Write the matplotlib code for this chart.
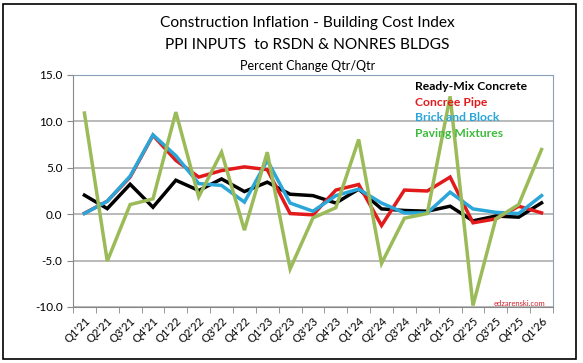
import numpy as np
import matplotlib
matplotlib.use("Agg")
import matplotlib.pyplot as plt
from matplotlib.patches import Rectangle

plt.rcParams['font.family'] = ['Lato', 'DejaVu Sans']

# quarters Q1'21 .. Q1'26
quarters = ["Q1'21", "Q2'21", "Q3'21", "Q4'21",
            "Q1'22", "Q2'22", "Q3'22", "Q4'22",
            "Q1'23", "Q2'23", "Q3'23", "Q4'23",
            "Q1'24", "Q2'24", "Q3'24", "Q4'24",
            "Q1'25", "Q2'25", "Q3'25", "Q4'25", "Q1'26"]

ready_mix = [2.05, 0.6, 3.23, 0.75, 3.66, 2.55, 3.8, 2.44, 3.45, 2.15, 2.0,
             1.2, 2.7, 0.57, 0.4, 0.32, 0.86, -0.72, -0.2, -0.32, 1.22]
concrete_pipe = [0.1, 1.4, 4.0, 8.5, 5.8, 4.0, 4.7, 5.1, 4.8, 0.07, -0.07,
                 2.6, 3.2, -1.22, 2.6, 2.5, 4.0, -0.93, -0.5, 0.86, 0.14]
brick_block = [0.07, 1.4, 4.1, 8.55, 6.3, 3.3, 3.1, 1.3, 5.8, 1.2, 0.32,
               2.0, 2.7, 1.2, 0.14, 0.14, 2.37, 0.57, 0.2, 0.07, 2.0]
paving = [10.9, -5.06, 1.04, 1.65, 11.0, 1.87, 6.68, -1.72, 6.68, -5.9, -0.4,
          0.7, 8.05, -5.3, -0.43, 0.07, 12.7, -9.84, -0.5, 1.04, 6.97]

series_names = ["Ready-Mix Concrete", "Concree Pipe", "Brick and Block", "Paving Mixtures"]
line_colors = ["#000000", "#e31a1c", "#2aa6d9", "#9bbb59"]
text_colors = ["#000000", "#e31a1c", "#2aa6d9", "#3dbb3d"]

fig = plt.figure(figsize=(5.83, 3.63), dpi=100)
ax = fig.add_axes([0.1252, 0.1543, 0.8233, 0.6391])

x = np.arange(len(quarters))
for i, vals in enumerate([ready_mix, concrete_pipe, brick_block, paving]):
    ax.plot(x, vals, color=line_colors[i], lw=2.5, zorder=3 + i,
            solid_joinstyle='miter')

ax.set_xlim(-0.5, len(quarters) - 0.5)
ax.set_ylim(-10, 15)
ax.set_yticks([-10, -5, 0, 5, 10, 15])
ax.set_yticklabels(["%.1f" % v for v in [-10, -5, 0, 5, 10, 15]], fontsize=8.5)
ax.yaxis.grid(True, color="#b4b4b4", lw=1.3)
ax.set_axisbelow(True)

ax.set_xticks(x)
ax.set_xticklabels(quarters, rotation=45, ha='right', rotation_mode='anchor',
                   fontsize=8.2)
ax.set_xticks(np.arange(-0.5, len(quarters)), minor=True)
ax.tick_params(axis='x', which='major', length=0, pad=6)
ax.tick_params(axis='x', which='minor', length=4, color="#888888")
ax.tick_params(axis='y', length=4, color="#888888")

for s in ['left', 'bottom']:
    ax.spines[s].set_color("#888888")
for s in ['top', 'right']:
    ax.spines[s].set_color("#8aa0b8")

# legend as coloured text
for i, name in enumerate(series_names):
    fig.text(0.712, 0.763 - i * 0.044, name, color=text_colors[i],
             fontsize=8.7, fontweight='bold', va='center', ha='left')

fig.text(0.527, 0.936, "Construction Inflation - Building Cost Index",
         ha='center', va='center', fontsize=11.2)
fig.text(0.527, 0.876, "PPI INPUTS  to RSDN & NONRES BLDGS",
         ha='center', va='center', fontsize=11.2)
fig.text(0.527, 0.818, "Percent Change Qtr/Qtr",
         ha='center', va='center', fontsize=9)

fig.text(0.935, 0.163, "edzarenski.com", color="#d0202a", fontsize=5.5,
         ha='right', va='center')

# outer chart border
fig.patches.append(Rectangle((0.006, 0.012), 0.982, 0.978, transform=fig.transFigure,
                             fill=False, edgecolor='black', lw=1.2))

fig.savefig("out.png", dpi=100)
